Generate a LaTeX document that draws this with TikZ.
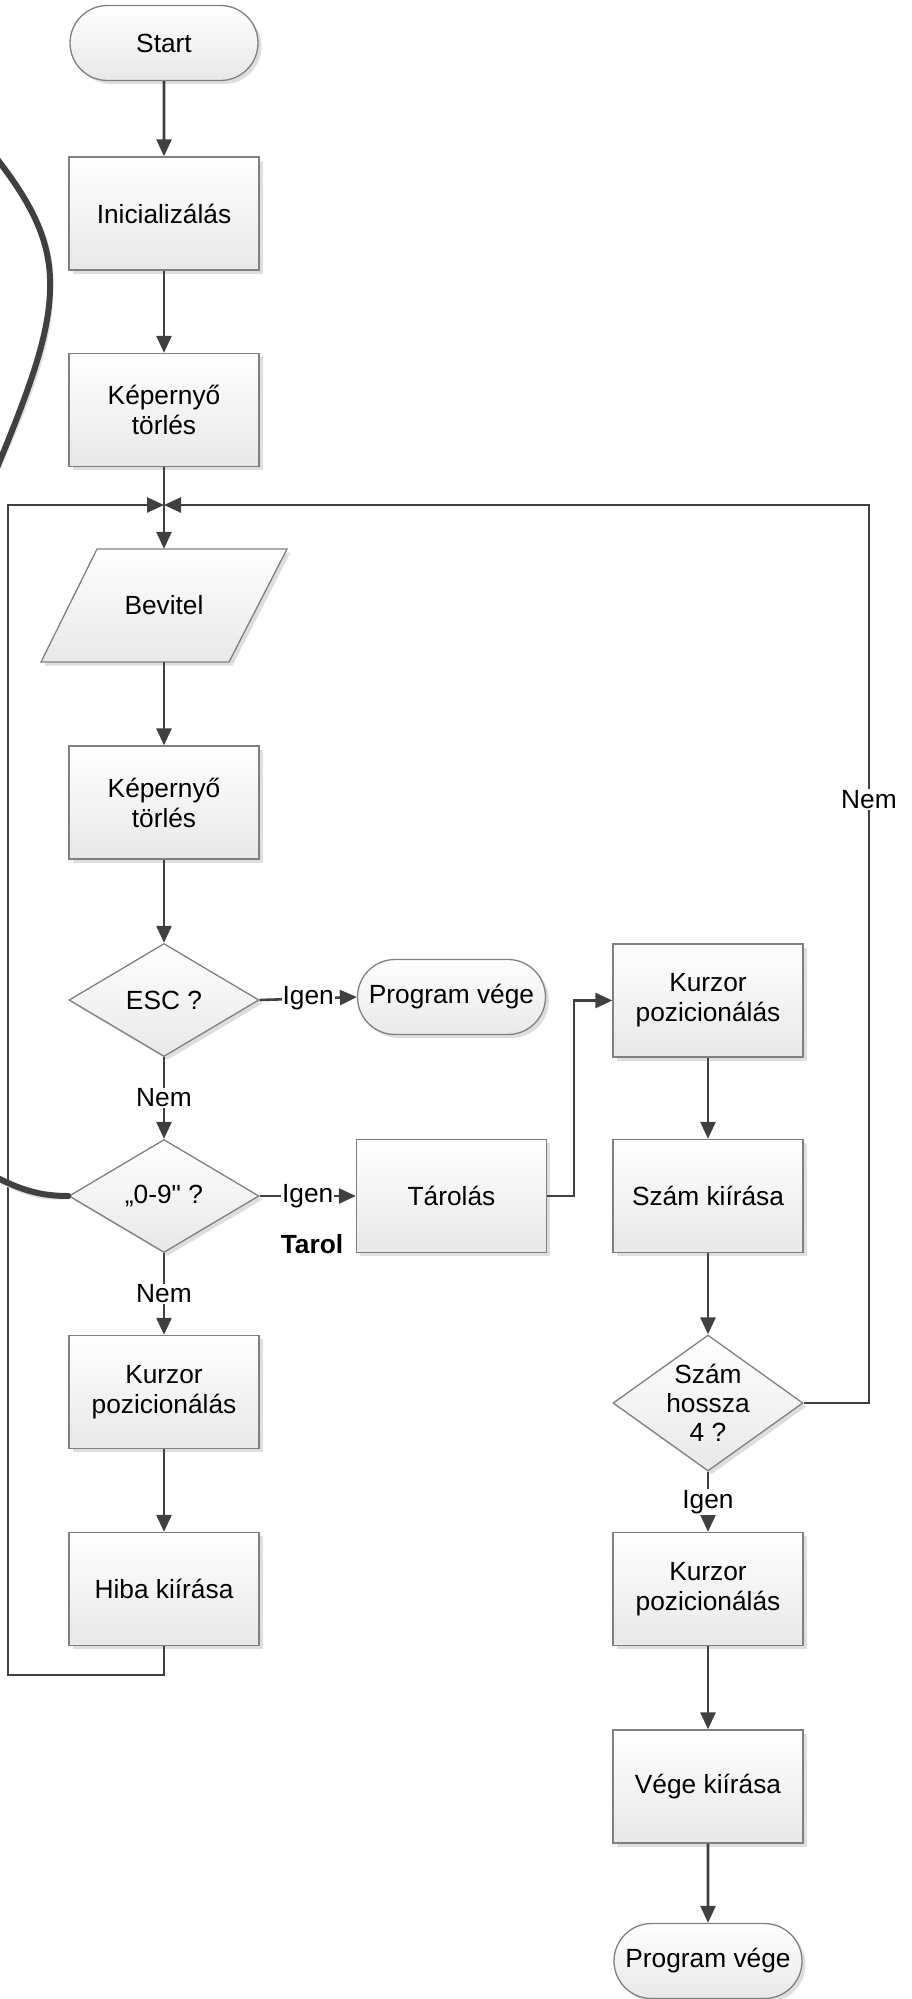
\documentclass[tikz,border=0pt]{standalone}
\usepackage{fontspec}
\setmainfont{Liberation Sans}[Ligatures=TeXOff]
\usetikzlibrary{shapes.geometric,shapes.misc,arrows.meta,shadows}
\definecolor{linegray}{HTML}{404040}
\definecolor{edgegray}{HTML}{808080}
\begin{document}
\begin{tikzpicture}[x=1pt,y=-1pt,
  font=\fontsize{26.3}{30}\selectfont,
  shapebase/.style={draw=edgegray, line width=1.3pt, top color=white, bottom color=black!9,
    drop shadow={shadow xshift=3.5pt, shadow yshift=-3.5pt, fill=black!13, opacity=1},
    inner sep=0pt, align=center, text=black},
  proc/.style={shapebase, rectangle, minimum width=190pt, minimum height=113pt},
  term/.style={shapebase, rounded rectangle, minimum width=188pt, minimum height=75pt},
  dec/.style={shapebase, diamond, minimum width=190pt, minimum height=#1},
  dec/.default=113pt,
  conn/.style={draw=linegray, line width=2.6pt, -{Triangle[length=17pt,width=15pt]}},
  lbl/.style={fill=white, inner sep=1pt, text=black},
  txt/.style={inner sep=0pt, align=center, text=black},
  thick curve/.style={draw=linegray, line width=6pt, line cap=round},
  curve shade/.style={draw=black!12, line width=6pt, line cap=round},
]
\useasboundingbox (0,0) rectangle (912,1999);

% ---- main column ----
\node[term] (start) at (164,43) {Start};
\node[proc] (init) at (164,213.5) {Inicializálás};
\node[proc] (kt1) at (164,410) {Képernyő\\törlés};
\coordinate (j) at (164,505);
% input parallelogram: outline drawn as a path, text node carries the anchors
\path[shapebase] (97,549) -- (287,549) -- (229,662) -- (41,662) -- cycle;
\node[txt, minimum width=190pt, minimum height=113pt] (bev) at (164,605.5) {Bevitel};
\node[proc] (kt2) at (164,802.5) {Képernyő\\törlés};
\node[dec] (esc) at (164,1000) {};
\node[txt] (esct) at (esc) {ESC ?};
\node[dec] (d09) at (164,1196) {};
\node[txt] (d09t) at (d09) {„0-9" ?};
\node[proc] (kl) at (164,1392) {Kurzor\\pozicionálás};
\node[proc] (hiba) at (164,1589) {Hiba kiírása};

% ---- middle column ----
\node[term] (pv1) at (451.5,997) {Program vége};
\node[proc] (tar) at (451.5,1196) {Tárolás};
\node[txt, font=\fontsize{26.3}{30}\selectfont\bfseries] (tarol) at (312,1244) {Tarol};

% ---- right column ----
\node[proc] (kr) at (708,1000.5) {Kurzor\\pozicionálás};
\node[proc] (szk) at (708,1196) {Szám kiírása};
\node[dec=136pt] (sh) at (708,1403) {};
\node[txt, font=\fontsize{26.3}{29}\selectfont] (sht) at (708,1403) {Szám\\hossza\\4 ?};
\node[proc] (kr2) at (708,1589) {Kurzor\\pozicionálás};
\node[proc] (vk) at (708,1786.5) {Vége kiírása};
\node[term] (pv2) at (708,1961) {Program vége};

% ---- loop corners ----
\coordinate (lb1) at (164,1675);
\coordinate (lb2) at (8,1675);
\coordinate (lb3) at (8,505);
\coordinate (rb) at (869,1403);
\coordinate (rt) at (869,505);
\coordinate (tk) at (574,1196);

% ---- connectors ----
\draw[conn] (start) -- (init);
\draw[conn] (init) -- (kt1);
\draw[conn] (kt1) -- (bev);
\draw[conn] (bev) -- (kt2);
\draw[conn] (kt2) -- (esc);
\draw[conn] (esc.east) -- node[lbl] {Igen} (pv1.west);
\draw[conn] (esc.south) -- node[lbl] {Nem} (d09.north);
\draw[conn] (d09.east) -- node[lbl] {Igen} (tar.west);
\draw[conn] (d09.south) -- node[lbl] {Nem} (kl.north);
\draw[conn] (kl) -- (hiba);
\draw[conn] (hiba.south) -- (lb1) -- (lb2) -- (lb3) -- (j);
\draw[conn] (tar.east) -- (tk) |- (kr.west);
\draw[conn] (kr) -- (szk);
\draw[conn] (szk) -- (sh.north);
\draw[conn] (sh.east) -- (rb) -- node[lbl, pos=0.672] {Nem} (rt) -- (j);
\draw[conn] (sh.south) -- node[lbl] {Igen} (kr2.north);
\draw[conn] (kr2) -- (vk);
\draw[conn] (vk) -- (pv2);

% ---- heavy curved connector running off the left edge ----
\coordinate (ctop) at (-10,150);
\coordinate (cmid) at (50,290);
\coordinate (cbot) at (-8,480);
\coordinate (cin) at (-10,1174);
\begin{scope}
  \clip (0,0) rectangle (912,1999);
  \begin{scope}[shift={(2,3)}]
    \draw[curve shade] (ctop) .. controls (30,200) and (52,240) .. (cmid)
                              .. controls (49,340) and (25,400) .. (cbot);
    \draw[curve shade] (d09.west) .. controls (40,1196) and (20,1190) .. (cin);
  \end{scope}
  \draw[thick curve] (ctop) .. controls (30,200) and (52,240) .. (cmid)
                            .. controls (49,340) and (25,400) .. (cbot);
  \draw[thick curve] (d09.west) .. controls (40,1196) and (20,1190) .. (cin);
\end{scope}
\end{tikzpicture}
\end{document}
